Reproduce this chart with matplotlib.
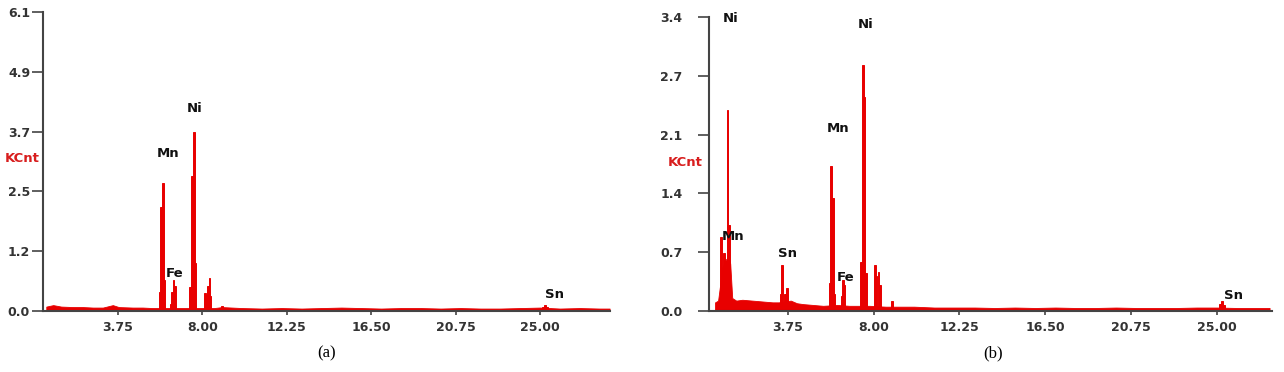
import numpy as np
import matplotlib.pyplot as plt

# ---- panel (a) data: EDS spectrum, energy in keV, counts in KCnt ----
a_bg_e = [0.15, 0.5, 0.9, 1.5, 2.0, 2.5, 3.0, 3.5, 3.8, 4.5, 5.0, 5.5, 6.2, 6.8,
          7.2, 7.8, 8.6, 9.0, 10.0, 11.0, 12.0, 13.0, 14.0, 15.0, 16.0, 17.0,
          18.0, 19.0, 20.0, 21.0, 22.0, 23.0, 24.0, 25.0, 26.0, 27.0, 28.0, 28.5]
a_bg_c = [0.09, 0.12, 0.09, 0.08, 0.08, 0.07, 0.07, 0.12, 0.08, 0.07, 0.07, 0.06,
          0.06, 0.06, 0.06, 0.06, 0.06, 0.08, 0.06, 0.05, 0.06, 0.05, 0.06, 0.07,
          0.06, 0.05, 0.06, 0.06, 0.05, 0.06, 0.05, 0.05, 0.06, 0.07, 0.05, 0.06,
          0.05, 0.05]
a_pk_e = [5.84, 5.93, 6.01, 6.07, 6.40, 6.48, 6.55, 6.63, 7.38, 7.48, 7.58, 7.65,
          8.14, 8.21, 8.28, 8.36, 8.42, 9.00, 25.15, 25.25, 25.35]
a_pk_c = [0.39, 2.12, 2.61, 0.63, 0.15, 0.39, 0.63, 0.50, 0.49, 2.76, 3.66, 0.98,
          0.37, 0.33, 0.50, 0.67, 0.30, 0.10, 0.09, 0.12, 0.08]
a_yticks = [0.0, 1.22, 2.44, 3.66, 4.88, 6.1]
a_ylabels = ['0.0', '1.2', '2.5', '3.7', '4.9', '6.1']
a_peaks = [('Mn', 6.28, 3.22), ('Ni', 7.63, 4.14), ('Fe', 6.63, 0.77), ('Sn', 25.75, 0.33)]

# ---- panel (b) data ----
b_bg_e = [0.15, 0.3, 0.4, 0.5, 0.6, 0.7, 0.8, 0.9, 1.0, 1.2, 1.5, 2.0, 2.5, 3.0,
          3.3, 3.9, 4.2, 4.5, 5.0, 5.5, 6.2, 6.8, 7.2, 7.8, 8.6, 9.5, 10.0, 11.0,
          12.0, 13.0, 14.0, 15.0, 16.0, 17.0, 18.0, 19.0, 20.0, 21.0, 22.0, 23.0,
          24.0, 25.0, 26.0, 27.0, 27.6]
b_bg_c = [0.10, 0.12, 0.30, 0.50, 0.55, 0.60, 0.62, 0.55, 0.15, 0.12, 0.13, 0.12,
          0.11, 0.10, 0.10, 0.12, 0.09, 0.08, 0.07, 0.06, 0.07, 0.06, 0.06, 0.06,
          0.05, 0.05, 0.05, 0.04, 0.04, 0.04, 0.035, 0.04, 0.035, 0.04, 0.035, 0.035,
          0.04, 0.035, 0.035, 0.035, 0.04, 0.04, 0.035, 0.035, 0.035]
b_pk_e = [0.45, 0.60, 0.76, 0.85, 3.38, 3.45, 3.62, 3.70, 5.81, 5.90, 5.98, 6.05,
          6.40, 6.47, 6.55, 7.38, 7.46, 7.55, 7.63, 8.07, 8.15, 8.24, 8.32, 8.90,
          25.15, 25.25, 25.35]
b_pk_c = [0.86, 0.67, 2.32, 1.00, 0.20, 0.53, 0.20, 0.27, 0.32, 1.68, 1.31, 0.20,
          0.17, 0.36, 0.30, 0.57, 2.84, 2.48, 0.44, 0.53, 0.40, 0.45, 0.30, 0.11,
          0.08, 0.11, 0.07]
b_yticks = [0.0, 0.68, 1.36, 2.04, 2.72, 3.4]
b_ylabels = ['0.0', '0.7', '1.4', '2.1', '2.7', '3.4']
b_peaks = [('Ni', 0.90, 3.38), ('Ni', 7.58, 3.31), ('Mn', 6.24, 2.11), ('Mn', 1.05, 0.86),
           ('Sn', 3.73, 0.66), ('Fe', 6.60, 0.39), ('Sn', 25.80, 0.185)]

x_ticks = [3.75, 8.00, 12.25, 16.50, 20.75, 25.00]
x_labels = ['3.75', '8.00', '12.25', '16.50', '20.75', '25.00']

RED = '#e80000'
AXIS = '#444444'
TXT = '#333333'


def draw_panel(ax, bg_e, bg_c, pk_e, pk_c, yticks, ylabels, peaks, xlim, ypad):
    ax.fill_between(bg_e, bg_c, 0, color=RED, lw=0.6, zorder=2)
    ax.bar(pk_e, pk_c, width=0.08, color=RED, edgecolor=RED, lw=0.7, zorder=2)
    ax.set_xlim(*xlim)
    ax.set_ylim(0, yticks[-1])
    for s in ['top', 'right']:
        ax.spines[s].set_visible(False)
    for s in ['left', 'bottom']:
        ax.spines[s].set_color(AXIS)
        ax.spines[s].set_linewidth(1.5)
        ax.spines[s].set_zorder(3)
    ax.set_xticks(x_ticks)
    ax.set_xticklabels(x_labels)
    ax.set_yticks(yticks)
    ax.set_yticklabels(ylabels)
    ax.tick_params(axis='y', direction='out', length=8, width=1.2, color=AXIS,
                   pad=ypad, labelsize=9, labelcolor=TXT)
    ax.tick_params(axis='x', direction='out', length=3, width=1.2, color=AXIS,
                   pad=4, labelsize=9, labelcolor=TXT)
    for lab in ax.get_xticklabels() + ax.get_yticklabels():
        lab.set_fontweight('bold')
    for name, x, y in peaks:
        ax.text(x, y, name, ha='center', va='center', fontsize=9.5,
                fontweight='bold', color='#111111', zorder=4)


fig = plt.figure(figsize=(12.84, 3.72), dpi=100)
W, H = 1284.0, 372.0

ax_a = fig.add_axes([43.3 / W, (H - 311) / H, 566.7 / W, 299 / H])
draw_panel(ax_a, a_bg_e, a_bg_c, a_pk_e, a_pk_c, a_yticks, a_ylabels, a_peaks,
           (0, 28.52), 1.5)

ax_b = fig.add_axes([709 / W, (H - 311) / H, 563 / W, 294 / H])
draw_panel(ax_b, b_bg_e, b_bg_c, b_pk_e, b_pk_c, b_yticks, b_ylabels, b_peaks,
           (-0.15, 27.72), 11)

# y-axis unit labels and panel captions
fig.text(40 / W, 1 - 158 / H, 'KCnt', ha='right', va='center', color='#d81e1e',
         fontsize=9.5, fontweight='bold')
fig.text(703 / W, 1 - 162 / H, 'KCnt', ha='right', va='center', color='#d81e1e',
         fontsize=9.5, fontweight='bold')
fig.text(327 / W, 1 - 353 / H, '(a)', ha='center', va='center',
         fontsize=12, family='Liberation Serif')
fig.text(993 / W, 1 - 353 / H, '(b)', ha='center', va='center',
         fontsize=12, family='Liberation Serif')

fig.savefig('out.png', dpi=100)
